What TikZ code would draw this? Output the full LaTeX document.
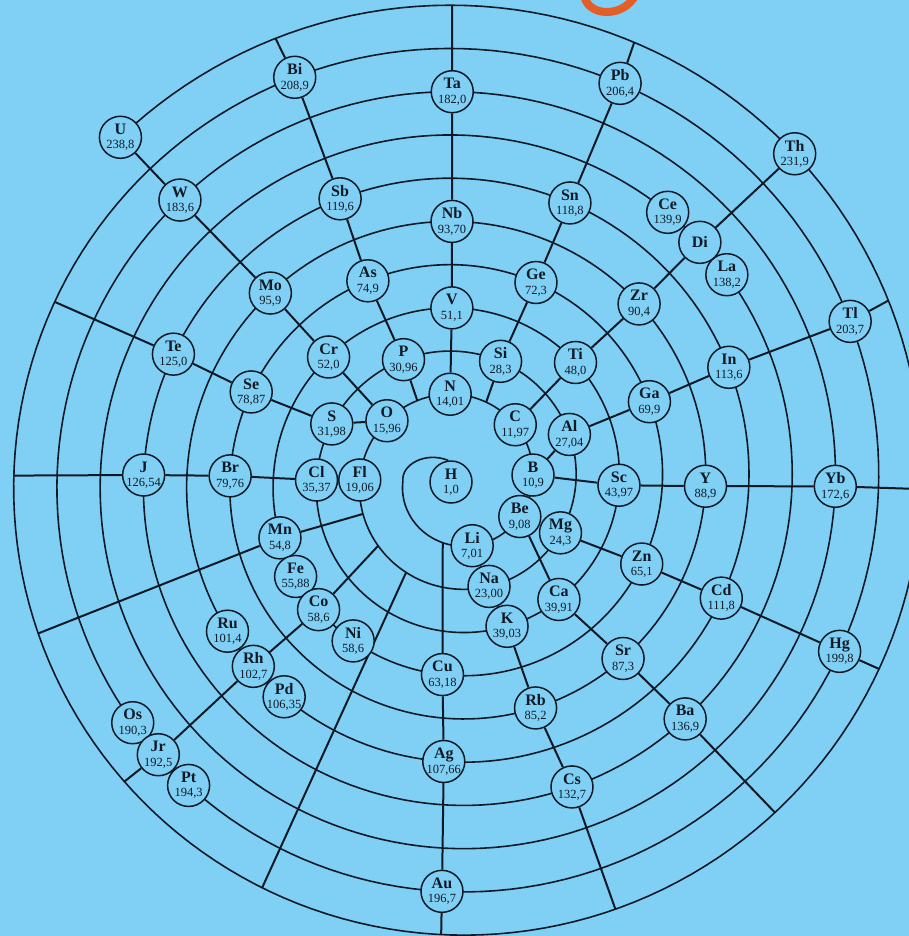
\documentclass[tikz,border=0pt]{standalone}
\usepackage{fontspec}
\setmainfont{Liberation Serif}
\usetikzlibrary{calc}
\pgfdeclarelayer{lines}
\pgfsetlayers{lines,main}
\definecolor{bgblue}{RGB}{127,208,244}
\definecolor{ink}{RGB}{16,26,38}
\definecolor{logo}{RGB}{228,94,40}
\pgfmathdeclarefunction{spr}{1}{\pgfmathparse{75.7+0.12014*(#1)}}
\newcommand\symf{\fontsize{16}{16}\selectfont\bfseries}
\newcommand\numf{\fontsize{12.5}{12.5}\selectfont}
\newcommand\spel[4]{\node[elem] (#1) at ($(ctr)+({0-(#2)}:{spr(#2)})$) {\makebox[0pt]{\symf #3}\\[2.5pt]\makebox[0pt]{\numf #4}};}
\newcommand\spco[2]{\coordinate (#1) at ($(ctr)+({0-(#2)}:{spr(#2)})$);}
\tikzset{
  elem/.style={circle, draw=ink, fill=bgblue, line width=1.5pt, minimum size=42pt, inner sep=0pt, align=center, text=ink},
  spiral/.style={draw=ink, line width=1.6pt},
  grp/.style={draw=ink, line width=2pt},
}
\begin{document}
\begin{tikzpicture}[x=1pt,y=-1pt]
\useasboundingbox (0,0) rectangle (909,936);
\coordinate (ctr) at (457,481);
% elements
\node[elem] (H) at (451,482) {\makebox[0pt]{\symf H}\\[2.5pt]\makebox[0pt]{\numf 1,0}};
\spel{Li}{-76.8}{Li}{7,01}
\spel{Be}{-29.5}{Be}{9,08}
\spel{B}{4.5}{B}{10,9}
\spel{C}{44}{C}{11,97}
\spel{N}{94.5}{N}{14,01}
\spel{O}{139.3}{O}{15,96}
\spel{Fl}{179.4}{Fl}{19,06}
\spel{Na}{286.9}{Na}{23,00}
\spel{Mg}{333.4}{Mg}{24,3}
\spel{Al}{382.5}{Al}{27,04}
\spel{Si}{430}{Si}{28,3}
\spel{P}{473.8}{P}{30,96}
\spel{S}{515.5}{S}{31,98}
\spel{Cl}{539.6}{Cl}{35,37}
\spel{K}{649}{K}{39,03}
\spel{Ca}{670.7}{Ca}{39,91}
\spel{Sc}{718.5}{Sc}{43,97}
\spel{Ti}{765}{Ti}{48,0}
\spel{V}{811.7}{V}{51,1}
\spel{Cr}{856}{Cr}{52,0}
\spel{Mn}{917.8}{Mn}{54,8}
\spel{Fe}{930.6}{Fe}{55,88}
\spel{Co}{942.9}{Co}{58,6}
\spel{Ni}{957}{Ni}{58,6}
\spel{Cu}{985.7}{Cu}{63,18}
\spel{Zn}{1055.8}{Zn}{65,1}
\spel{Ga}{1102.4}{Ga}{69,9}
\spel{Ge}{1148.3}{Ge}{72,3}
\spel{As}{1194}{As}{74,9}
\spel{Se}{1236.6}{Se}{78,87}
\spel{Br}{1258.7}{Br}{79,76}
\spel{Rb}{1369.1}{Rb}{85,2}
\spel{Sr}{1393.1}{Sr}{87,3}
\spel{Y}{1438.8}{Y}{88,9}
\spel{Zr}{1484.2}{Zr}{90,4}
\spel{Nb}{1531.1}{Nb}{93,70}
\spel{Mo}{1574.8}{Mo}{95,9}
\spel{Ru}{1653.2}{Ru}{101,4}
\spel{Rh}{1662.3}{Rh}{102,7}
\spel{Pd}{1671.3}{Pd}{106,35}
\spel{Ag}{1707.3}{Ag}{107,66}
\spel{Cd}{1776.1}{Cd}{111,8}
\spel{In}{1822.7}{In}{113,6}
\spel{Sn}{1867.9}{Sn}{118,8}
\spel{Sb}{1912.5}{Sb}{119,6}
\spel{Te}{1955.9}{Te}{125,0}
\spel{J}{1978.9}{J}{126,54}
\spel{Cs}{2090.6}{Cs}{132,7}
\spel{Ba}{2113.8}{Ba}{136,9}
\spel{La}{2197.4}{La}{138,2}
\node[elem] (Di) at ($(ctr)+({0-(2204.5)}:{spr(2204.5)})$) {\makebox[0pt]{\symf Di}};
\spel{Ce}{2211.9}{Ce}{139,9}
\spel{Yb}{2519.2}{Yb}{172,6}
\spel{Ta}{2610.7}{Ta}{182,0}
\spel{W}{2654.6}{W}{183,6}
\spel{Os}{2736.7}{Os}{190,3}
\spel{Jr}{2742.5}{Jr}{192,5}
\spel{Pt}{2748.6}{Pt}{194,3}
\spel{Au}{2787.9}{Au}{196,7}
\spel{Hg}{2856}{Hg}{199,8}
\spel{Tl}{2902.1}{Tl}{203,7}
\spel{Pb}{2947.7}{Pb}{206,4}
\spel{Bi}{2991.9}{Bi}{208,9}
\spel{Th}{3284.1}{Th}{231,9}
\spel{U}{3374.4}{U}{238,8}
% free ends of group lines, on the spiral
\spco{hs}{-180}
\spco{cuS}{-103}
\spco{cuE}{3148}
\spco{csE}{3170.3}
\spco{baE}{3193.8}
\spco{hgE}{3216}
\spco{ybE}{3239}
\spco{tlE}{3262.7}
\spco{siS}{69.7}
\spco{pbE}{3308}
\spco{taE}{3330.6}
\spco{pS}{116.3}
\spco{biE}{3352.3}
\spco{teE}{3036}
\spco{jE}{3059.3}
\spco{mnS}{199.3}
\spco{mnE}{3080}
\spco{coS}{219.4}
\spco{jrE}{3102.1}
\spco{xS}{240.9}
\spco{xE}{3124.4}
\begin{pgfonlayer}{lines}
\fill[bgblue] (0,0) rectangle (909,936);
\draw[logo, line width=8pt] (584,-6) .. controls (586,17) and (624,19) .. (636,-6);
\draw[spiral] (H.97) .. controls (425,451) and (401,465) .. (hs)
  -- plot[domain=-180:3374.4, samples=1800, variable=\t] ({457+spr(\t)*cos(\t)}, {481-spr(\t)*sin(\t)});
\draw[grp] (cuS) -- (Cu) -- (Ag) -- (Au) -- (cuE);
\draw[grp] (Li) -- (Na) -- (K) -- (Rb) -- (Cs) -- (csE);
\draw[grp] (Be) -- (Ca) -- (Sr) -- (Ba) -- (baE);
\draw[grp] (Mg) -- (Zn) -- (Cd) -- (Hg) -- (hgE);
\draw[grp] (B) -- (Sc) -- (Y) -- (Yb) -- (ybE);
\draw[grp] (B) -- (Al) -- (Ga) -- (In) -- (Tl) -- (tlE);
\draw[grp] (C) -- (Ti) -- (Zr) -- (Di) -- (Th);
\draw[grp] (siS) -- (Si) -- (Ge) -- (Sn) -- (Pb) -- (pbE);
\draw[grp] (N) -- (V) -- (Nb) -- (Ta) -- (taE);
\draw[grp] (pS) -- (P) -- (As) -- (Sb) -- (Bi) -- (biE);
\draw[grp] (O) -- (Cr) -- (Mo) -- (W) -- (U);
\draw[grp] (O) -- (S) -- (Se) -- (Te) -- (teE);
\draw[grp] (Fl) -- (Cl) -- (Br) -- (J) -- (jE);
\draw[grp] (mnS) -- (Mn) -- (mnE);
\draw[grp] (coS) -- (Co) -- (Rh) -- (Jr) -- (jrE);
\draw[grp] (xS) -- (xE);
\end{pgfonlayer}
\end{tikzpicture}
\end{document}
